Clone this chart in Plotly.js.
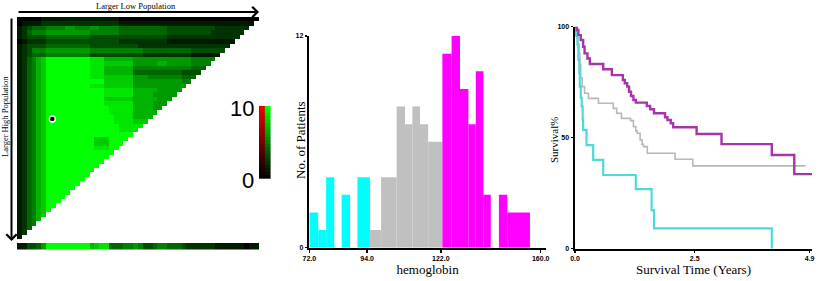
<!DOCTYPE html>
<html>
<head>
<meta charset="utf-8">
<script src="https://cdn.plot.ly/plotly-3.0.1.min.js"></script>
<style>html,body{margin:0;padding:0;background:#fff;}#chart{width:824px;height:281px;}</style>
</head>
<body>
<div id="chart"></div>
<script>
// ---------- X-tile heatmap (run-length rows: [value, count]) ----------
const GRID_N = 50;
const heatRows = [
  [[0,5],[1,16],[0,29]],
  [[0,1],[1,4],[2,16],[1,28]],
  [[1,1],[2,1],[3,1],[4,3],[5,4],[6,2],[5,3],[6,2],[5,4],[4,10],[3,10],[2,7]],
  [[1,1],[2,1],[4,1],[5,3],[6,9],[5,6],[4,10],[3,9],[2,7]],
  [[1,1],[2,1],[3,4],[4,9],[3,16],[2,15]],
  [[0,1],[1,1],[2,4],[3,15],[2,10],[1,14]],
  [[1,1],[2,1],[3,4],[4,9],[3,10],[2,19]],
  [[1,1],[2,1],[3,1],[5,3],[6,9],[5,11],[4,10],[3,7]],
  [[1,1],[2,1],[3,1],[4,3],[5,9],[3,11],[2,10],[1,6]],
  [[1,1],[2,1],[4,1],[5,1],[7,1],[8,1],[10,9],[9,3],[7,6],[6,12],[5,5]],
  [[1,1],[2,1],[4,1],[5,1],[7,1],[8,1],[10,9],[9,3],[8,6],[6,5],[7,2],[6,5],[5,4]],
  [[1,1],[2,1],[4,1],[5,1],[7,1],[8,1],[10,9],[9,3],[7,6],[5,12],[4,3]],
  [[1,1],[2,1],[4,1],[5,1],[7,1],[8,1],[10,9],[9,3],[7,6],[4,10],[3,4]],
  [[1,1],[2,1],[4,1],[5,1],[7,1],[8,1],[10,9],[9,3],[8,6],[6,3],[5,7],[4,3]],
  [[1,1],[2,1],[4,1],[5,1],[7,1],[8,1],[10,9],[10,3],[8,6],[6,4],[6,6],[5,2]],
  [[1,1],[2,1],[4,1],[5,1],[7,1],[8,1],[10,9],[9,3],[8,6],[6,5],[6,6]],
  [[1,1],[2,1],[4,1],[5,1],[7,1],[8,1],[10,9],[10,3],[9,6],[7,5],[6,5]],
  [[1,1],[2,1],[4,1],[5,1],[7,1],[8,1],[10,9],[10,3],[9,6],[7,4],[6,5]],
  [[1,1],[2,1],[4,1],[5,1],[7,1],[8,1],[10,9],[10,3],[8,6],[7,5],[6,3]],
  [[1,1],[2,1],[4,1],[5,1],[7,1],[8,1],[10,9],[10,3],[9,6],[7,4],[6,3]],
  [[1,1],[2,1],[4,1],[5,1],[7,1],[8,1],[10,9],[10,4],[9,5],[7,4],[6,2]],
  [[1,1],[2,1],[4,1],[5,1],[7,1],[8,1],[10,9],[10,4],[9,5],[7,5]],
  [[1,1],[2,1],[4,1],[5,1],[7,1],[8,1],[10,9],[10,5],[9,4],[7,4]],
  [[1,1],[2,1],[4,1],[5,1],[7,1],[8,1],[10,9],[10,5],[9,4],[8,3]],
  [[1,1],[2,1],[4,1],[5,1],[7,1],[8,1],[10,9],[10,6],[9,5]],
  [[1,1],[2,1],[4,1],[5,1],[7,1],[8,1],[10,9],[10,6],[9,4]],
  [[1,1],[2,1],[4,1],[5,1],[7,1],[8,1],[10,9],[10,9]],
  [[1,1],[2,1],[4,1],[5,1],[7,1],[8,1],[10,9],[10,1],[8,3],[10,4]],
  [[1,1],[2,1],[4,1],[5,1],[7,1],[8,1],[10,9],[10,1],[8,3],[10,3]],
  [[1,1],[2,1],[4,1],[5,1],[7,1],[8,1],[10,9],[10,1],[9,3],[10,2]],
  [[1,1],[2,1],[4,1],[5,1],[7,1],[8,1],[10,14]],
  [[1,1],[2,1],[4,1],[5,1],[7,1],[8,1],[10,13]],
  [[1,1],[2,1],[4,1],[5,1],[7,1],[8,1],[10,12]],
  [[1,1],[2,1],[4,1],[5,1],[7,1],[8,1],[10,11]],
  [[1,1],[2,1],[4,1],[5,1],[7,1],[8,1],[10,10]],
  [[1,1],[2,1],[4,1],[5,1],[7,1],[8,1],[10,9]],
  [[1,1],[2,1],[4,1],[5,1],[7,1],[8,1],[10,8]],
  [[1,1],[2,1],[4,1],[5,1],[7,1],[8,1],[10,7]],
  [[1,1],[2,1],[4,1],[5,1],[7,1],[8,1],[10,6]],
  [[1,1],[2,1],[4,1],[5,1],[7,1],[8,1],[10,5]],
  [[1,1],[2,1],[4,1],[5,1],[7,1],[8,1],[10,4]],
  [[1,1],[2,1],[4,1],[5,1],[7,1],[8,1],[10,3]],
  [[1,1],[2,1],[4,1],[5,1],[7,1],[8,1],[10,2]],
  [[1,1],[2,1],[4,1],[5,1],[7,1],[8,1],[10,1]],
  [[1,1],[2,1],[4,1],[5,1],[7,1],[8,1]],
  [[1,1],[2,1],[4,1],[5,1],[7,1]],
  [[1,1],[2,1],[4,1],[5,1]],
  [[1,1],[2,1],[4,1]],
  [[1,1],[2,1]],
  [[1,1]]
];
const stripRow = [[1,2],[3,2],[4,1],[6,1],[10,9],[7,1],[8,1],[9,2],[4,3],[5,2],[6,1],[5,1],[3,2],[4,1],[5,2],[4,3],[3,1],[2,6],[1,6],[0,1],[1,2]];
const cutCol = [6.8];
const cutRow = [22.5];
const scaleLevels = [0,0.5,1,1.5,2,2.5,3,3.5,4,4.5,5,5.5,6,6.5,7,7.5,8,8.5,9,9.5,10];

// ---------- histogram of hemoglobin ----------
const binStart = [72, 75.4, 78.4, 84.3, 90.3, 95.1, 99.3, 105.2, 108.4, 111.2, 114.1, 117.2, 122.6, 126.1, 129.3, 132.5, 135.3, 138.2, 144.1, 147.3];
const binEnd   = [75.4, 78.4, 81.5, 87.5, 95.1, 99.3, 105.2, 108.4, 111.2, 114.1, 117.2, 122.6, 126.1, 129.3, 132.5, 135.3, 138.2, 141.0, 147.3, 155.9];
const binCount = [2, 1, 4, 3, 4, 1, 4, 8, 7, 8, 7, 6, 11, 12, 9, 7, 10, 3, 3, 2];
const binGroup = ['low','low','low','low','low','mid','mid','mid','mid','mid','mid','mid','high','high','high','high','high','high','high','high'];
const histTicks = [72, 94, 122, 160];

// ---------- Kaplan-Meier curves ----------
const highT = [0,0.04,0.07,0.12,0.17,0.20,0.26,0.31,0.59,0.77,1.00,1.04,1.09,1.13,1.17,1.22,1.27,1.50,1.57,1.65,1.88,1.93,2.00,2.05,2.54,3.06,4.11,4.58,4.95];
const highS = [100,98.5,96.2,94,91,88,85.7,83.2,80.8,78.2,76,74.5,73,70.7,68.8,67,65.8,64.3,62.8,61,59.2,58,56.5,54.7,51.7,47.1,42.2,33.6,33.6];
const midT = [0,0.02,0.04,0.06,0.08,0.10,0.12,0.15,0.20,0.28,0.49,0.80,0.87,0.97,1.16,1.22,1.27,1.30,1.36,1.40,1.43,1.51,2.09,2.46,4.82];
const midS = [100,97,95,92,88,83,77,73,70,67.7,65.5,63.2,61,58.7,57.7,55,53,52,49,47,46,43,40.3,37.3,37.3];
const lowT = [0,0.02,0.05,0.07,0.09,0.10,0.12,0.14,0.16,0.17,0.24,0.38,0.59,1.27,1.60,1.65,4.11];
const lowS = [100,96,92,85,79,73,68,64,58,53.5,46.7,40,33.2,26.8,17.4,9.2,0];
const kmTicksX = [0, 2.5, 4.9];
const kmTicksY = [0, 50, 100];

// ---------- build ----------
function expand(rle, len) {
  const out = [];
  rle.forEach(([v, c]) => { for (let i = 0; i < c; i++) out.push(v); });
  const row = out.slice(0, len);
  while (row.length < GRID_N) row.push(null);
  return row;
}
const heatZ = heatRows.map((r, i) => expand(r, GRID_N - i));
const stripZ = [expand(stripRow, GRID_N)];

const W = 824, H = 281;
const px = v => v / W;
const py = v => 1 - v / H;

const greenScale = [[0, '#000000'], [1, '#00FF00']];
const redScale = [[0, '#000000'], [1, '#E80000']];

const groupColor = {low: '#00FFFF', mid: '#C0C0C0', high: '#FF00FF'};
const histTraces = ['low', 'mid', 'high'].map(g => {
  const idx = binGroup.map((v, i) => v === g ? i : -1).filter(i => i >= 0);
  return {
    type: 'bar', xaxis: 'x2', yaxis: 'y2',
    x: idx.map(i => (binStart[i] + binEnd[i]) / 2),
    width: idx.map(i => binEnd[i] - binStart[i]),
    y: idx.map(i => binCount[i]),
    marker: {color: groupColor[g], line: {width: 0}},
    hoverinfo: 'skip'
  };
});

const traces = [
  {type: 'heatmap', z: heatZ, xaxis: 'x', yaxis: 'y', colorscale: greenScale, zmin: 0, zmax: 10, showscale: false, hoverinfo: 'skip'},
  {type: 'scatter', mode: 'markers', x: cutCol, y: cutRow, xaxis: 'x', yaxis: 'y',
   marker: {size: 6, color: '#000', line: {color: '#fff', width: 1.5}}, hoverinfo: 'skip'},
  {type: 'heatmap', z: stripZ, xaxis: 'x4', yaxis: 'y4', colorscale: greenScale, zmin: 0, zmax: 10, showscale: false, hoverinfo: 'skip'},
  {type: 'heatmap', z: scaleLevels.map(v => [v]), x: [0], y: scaleLevels, xaxis: 'x5', yaxis: 'y5', colorscale: redScale, zmin: 0, zmax: 10, showscale: false, hoverinfo: 'skip'},
  {type: 'heatmap', z: scaleLevels.map(v => [v]), x: [1], y: scaleLevels, xaxis: 'x5', yaxis: 'y5', colorscale: greenScale, zmin: 0, zmax: 10, showscale: false, hoverinfo: 'skip'},
  ...histTraces,
  {type: 'scatter', mode: 'lines', x: midT, y: midS, xaxis: 'x3', yaxis: 'y3', line: {shape: 'hv', color: '#B8B8B8', width: 1.6}, hoverinfo: 'skip'},
  {type: 'scatter', mode: 'lines', x: lowT, y: lowS, xaxis: 'x3', yaxis: 'y3', line: {shape: 'hv', color: '#4DD9D9', width: 2.2}, hoverinfo: 'skip'},
  {type: 'scatter', mode: 'lines', x: highT, y: highS, xaxis: 'x3', yaxis: 'y3', line: {shape: 'hv', color: '#A535A8', width: 2.4}, hoverinfo: 'skip'}
];

const tickFont = {family: 'Liberation Sans, Arial', size: 7, color: '#000', weight: 'bold'};
const titleFont = {family: 'Liberation Serif, Times New Roman', size: 13, color: '#000'};
const hidden = {visible: false, showgrid: false, zeroline: false, fixedrange: true};

const layout = {
  width: W, height: H,
  margin: {l: 0, r: 0, t: 0, b: 0, pad: 0},
  paper_bgcolor: '#fff', plot_bgcolor: 'rgba(0,0,0,0)',
  showlegend: false, barmode: 'overlay',
  xaxis: Object.assign({}, hidden, {domain: [px(17), px(259)], range: [-0.5, GRID_N - 0.5], anchor: 'y'}),
  yaxis: Object.assign({}, hidden, {domain: [py(239), py(17)], range: [GRID_N - 0.5, -0.5], anchor: 'x'}),
  xaxis4: Object.assign({}, hidden, {domain: [px(17), px(259)], range: [-0.5, GRID_N - 0.5], anchor: 'y4'}),
  yaxis4: Object.assign({}, hidden, {domain: [py(249.5), py(243)], range: [-0.5, 0.5], anchor: 'x4'}),
  xaxis5: Object.assign({}, hidden, {domain: [px(259), px(270.7)], range: [-0.5, 1.5], anchor: 'y5'}),
  yaxis5: Object.assign({}, hidden, {domain: [py(179), py(105.7)], range: [-0.25, 10.25], anchor: 'x5'}),
  xaxis2: {
    domain: [px(309.3), px(546)], range: [72, 162], anchor: 'y2',
    showline: true, linecolor: '#000', linewidth: 2, showgrid: false, zeroline: false,
    ticks: 'outside', ticklen: 3, tickwidth: 1.5, tickcolor: '#000',
    tickvals: histTicks, tickformat: '.1f', tickfont: tickFont,
    title: {text: 'hemoglobin', font: titleFont, standoff: 0}
  },
  yaxis2: {
    domain: [py(247.7), py(36)], range: [0, 12], anchor: 'x2',
    showline: true, linecolor: '#000', linewidth: 2.5, showgrid: false, zeroline: false,
    ticks: 'outside', ticklen: 2, tickwidth: 1.5, tickcolor: '#000',
    tickvals: [0, 12], tickfont: tickFont
  },
  xaxis3: {
    domain: [px(575), px(812)], range: [0, 4.95], anchor: 'y3',
    showline: true, linecolor: '#000', linewidth: 2, showgrid: false, zeroline: false,
    ticks: 'outside', ticklen: 2, tickwidth: 1.5, tickcolor: '#000',
    tickvals: kmTicksX, tickformat: '.1f', tickfont: tickFont,
    title: {text: 'Survival Time (Years)', font: titleFont, standoff: 0}
  },
  yaxis3: {
    domain: [py(248.7), py(26.7)], range: [0, 100], anchor: 'x3',
    showline: true, linecolor: '#000', linewidth: 2.5, showgrid: false, zeroline: false,
    ticks: 'outside', ticklen: 2, tickwidth: 1.5, tickcolor: '#000',
    tickvals: kmTicksY, tickfont: tickFont
  },
  annotations: [
    {xref: 'paper', yref: 'paper', x: px(136), y: py(6.5), text: 'Larger Low Population', showarrow: false,
     font: {family: 'Liberation Serif, Times New Roman', size: 8.5, color: '#000'}, xanchor: 'center', yanchor: 'middle'},
    {xref: 'paper', yref: 'paper', x: px(5), y: py(117), text: 'Larger High Population', showarrow: false, textangle: -90,
     font: {family: 'Liberation Serif, Times New Roman', size: 8.5, color: '#000'}, xanchor: 'center', yanchor: 'middle'},
    {xref: 'paper', yref: 'paper', x: px(256), y: py(108), text: '10', showarrow: false,
     font: {family: 'Liberation Sans, Arial', size: 22, color: '#000'}, xanchor: 'right', yanchor: 'middle'},
    {xref: 'paper', yref: 'paper', x: px(256), y: py(180), text: '0', showarrow: false,
     font: {family: 'Liberation Sans, Arial', size: 22, color: '#000'}, xanchor: 'right', yanchor: 'middle'},
    {xref: 'paper', yref: 'paper', x: px(300), y: py(140), text: 'No. of Patients', showarrow: false, textangle: -90,
     font: titleFont, xanchor: 'center', yanchor: 'middle'},
    {xref: 'paper', yref: 'paper', x: px(554), y: py(140), text: 'Survival%', showarrow: false, textangle: -90,
     font: {family: 'Liberation Serif, Times New Roman', size: 11, color: '#000'}, xanchor: 'center', yanchor: 'middle'},
    {xref: 'paper', yref: 'paper', axref: 'paper', ayref: 'paper', x: px(259), y: py(12), ax: px(17), ay: py(12),
     text: '', showarrow: true, arrowhead: 4, arrowsize: 1, arrowwidth: 2, arrowcolor: '#000'},
    {xref: 'paper', yref: 'paper', axref: 'paper', ayref: 'paper', x: px(11.5), y: py(241), ax: px(11.5), ay: py(17),
     text: '', showarrow: true, arrowhead: 4, arrowsize: 1, arrowwidth: 2, arrowcolor: '#000'}
  ]
};

Plotly.newPlot('chart', traces, layout, {staticPlot: true, displayModeBar: false});
</script>
</body>
</html>
